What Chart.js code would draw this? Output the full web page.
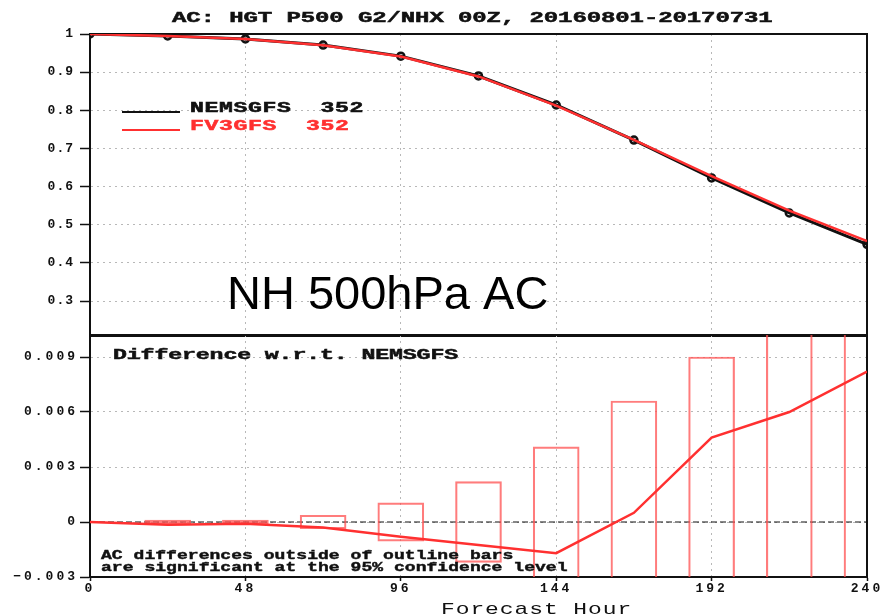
<!DOCTYPE html>
<html>
<head>
<meta charset="utf-8">
<title>NH 500hPa AC</title>
<script src="https://cdn.jsdelivr.net/npm/chart.js@4.4.1/dist/chart.umd.min.js"></script>
<style>
  html, body { margin: 0; padding: 0; background: #fff; }
  #wrap { position: relative; width: 888px; height: 616px; overflow: hidden; }
  .panel { position: absolute; left: 0; width: 888px; }
  #top { top: 0; height: 342px; }
  #bottom { top: 330px; height: 286px; }
</style>
</head>
<body>
<div id="wrap">
  <div class="panel" id="top"><canvas id="acChart"></canvas></div>
  <div class="panel" id="bottom"><canvas id="diffChart"></canvas></div>
</div>
<script>
// forecast hours and scores
const hours = [0, 24, 48, 72, 96, 120, 144, 168, 192, 216, 240];
const nemsgfs = [1.0, 0.995, 0.987, 0.971, 0.942, 0.890, 0.814, 0.722, 0.623, 0.531, 0.449];
const fv3gfs = [1.0, 0.9948, 0.9869, 0.9707, 0.9412, 0.8888, 0.8123, 0.7225, 0.6276, 0.5370, 0.4572];
const diff = [0, -0.00015, -0.0001, -0.0003, -0.0008, -0.00125, -0.0017, 0.0005, 0.0046, 0.0060, 0.0082];

// half height of the 95% confidence bars
const barHours = [24, 48, 72, 96, 120, 144, 168, 192, 216, 240];
const barHalf = [0.0001, 0.0001, 0.00037, 0.00104, 0.0022, 0.0041, 0.0066, 0.0090, 0.0118, 0.0135];

// tick labels
const xTicks = [0, 48, 96, 144, 192, 240];
const topTicks = [0.3, 0.4, 0.5, 0.6, 0.7, 0.8, 0.9, 1];
const diffTicks = [-0.003, 0, 0.003, 0.006, 0.009];

const RED = '#ff3030';
const INK = '#111';
const GRID = '#b8b8b8';
const MONO = '"Liberation Mono", "DejaVu Sans Mono", monospace';

// GrADS style wide text: stretched glyphs and fixed advance per character
function wideText(ctx, text, x, y, o) {
  ctx.save();
  ctx.letterSpacing = '0px';
  ctx.font = (o.weight || 'bold') + ' ' + o.size + 'px ' + MONO;
  const k = o.kx || 1;
  const natural = ctx.measureText('M').width;
  ctx.letterSpacing = (o.adv / k - natural) + 'px';
  ctx.fillStyle = o.color || INK;
  ctx.strokeStyle = o.color || INK;
  ctx.lineWidth = o.stroke || 0;
  ctx.textBaseline = 'middle';
  ctx.textAlign = 'left';
  ctx.translate(x, y);
  ctx.scale(k, 1);
  ctx.fillText(text, 0, 0);
  if (o.stroke) ctx.strokeText(text, 0, 0);
  ctx.restore();
}

const spacing = px => ({
  id: 'spacing',
  beforeLayout(chart) { chart.ctx.letterSpacing = px + 'px'; },
  beforeDraw(chart) { chart.ctx.letterSpacing = px + 'px'; }
});

const frame = {
  id: 'frame',
  beforeDatasetsDraw(chart) {
    const {ctx, chartArea: a} = chart;
    ctx.save();
    ctx.strokeStyle = INK;
    ctx.lineWidth = 2;
    ctx.strokeRect(a.left, a.top, a.right - a.left, a.bottom - a.top);
    ctx.restore();
  }
};

const fixY = s => { s.width = 90; s.paddingTop = 0; s.paddingBottom = 0; };
const fixX = h => s => { s.height = h; s.paddingLeft = 0; s.paddingRight = 0; };

// top panel: anomaly correlation
new Chart(document.querySelector('#acChart'), {
  type: 'line',
  data: {
    datasets: [
      {
        label: 'NEMSGFS',
        data: hours.map((h, i) => ({x: h, y: nemsgfs[i]})),
        borderColor: INK,
        borderWidth: 3,
        pointRadius: 3.5,
        pointBorderWidth: 2.5,
        pointBorderColor: INK,
        pointBackgroundColor: 'rgba(255,255,255,0)',
        order: 1
      },
      {
        label: 'FV3GFS',
        data: hours.map((h, i) => ({x: h, y: fv3gfs[i]})),
        borderColor: RED,
        borderWidth: 2.5,
        pointRadius: 0,
        order: 0
      }
    ]
  },
  options: {
    responsive: true,
    maintainAspectRatio: false,
    animation: false,
    layout: {padding: {top: 34, right: 21, bottom: 2, left: 0}},
    plugins: {legend: {display: false}, tooltip: {enabled: false}},
    scales: {
      x: {
        type: 'linear', min: 0, max: 240, offset: false,
        afterBuildTicks: s => { s.ticks = xTicks.map(v => ({value: v})); },
        afterFit: fixX(0),
        ticks: {display: false},
        grid: {color: GRID, lineWidth: 1, drawTicks: false, offset: false},
        border: {display: true, color: INK, width: 2, dash: [2, 4]}
      },
      y: {
        min: 0.21, max: 1,
        afterBuildTicks: s => { s.ticks = topTicks.map(v => ({value: v})); },
        afterFit: fixY,
        ticks: {
          callback: v => String(v),
          color: INK, padding: 6,
          font: {family: MONO, size: 13, weight: 'bold'}
        },
        grid: {color: GRID, lineWidth: 1, tickLength: 10, tickColor: INK, tickWidth: 1.5},
        border: {display: true, color: INK, width: 2, dash: [2, 4]}
      }
    }
  },
  plugins: [spacing(1), frame, {
    id: 'labels',
    afterDraw(chart) {
      const ctx = chart.ctx;
      wideText(ctx, 'AC: HGT P500 G2/NHX 00Z, 20160801-20170731', 172, 18, {size: 15, adv: 14.3, kx: 1.6, stroke: 0.5});
      ctx.save();
      ctx.lineWidth = 2;
      ctx.strokeStyle = INK;
      ctx.beginPath(); ctx.moveTo(122, 112); ctx.lineTo(180, 112); ctx.stroke();
      ctx.strokeStyle = RED;
      ctx.beginPath(); ctx.moveTo(122, 130); ctx.lineTo(180, 130); ctx.stroke();
      ctx.restore();
      wideText(ctx, 'NEMSGFS  352', 190, 108.5, {size: 14, adv: 14.5, kx: 1.65, stroke: 0.5});
      wideText(ctx, 'FV3GFS  352', 190, 126.5, {size: 14, adv: 14.5, kx: 1.65, stroke: 0.5, color: RED});
      ctx.save();
      ctx.letterSpacing = '0px';
      ctx.font = '47px "Liberation Sans", Arial, sans-serif';
      ctx.fillStyle = '#000';
      ctx.textBaseline = 'alphabetic';
      ctx.fillText('NH 500hPa AC', 227, 309);
      ctx.restore();
    }
  }]
});

// bottom panel: difference with confidence bars
new Chart(document.querySelector('#diffChart'), {
  type: 'line',
  data: {
    datasets: [
      {
        type: 'line',
        label: 'FV3GFS - NEMSGFS',
        data: hours.map((h, i) => ({x: h, y: diff[i]})),
        borderColor: RED,
        borderWidth: 2.5,
        pointRadius: 0,
        order: 0
      },
      {
        type: 'bar',
        label: '95% confidence',
        data: barHours.map((h, i) => ({x: h, y: [-barHalf[i], barHalf[i]]})),
        backgroundColor: 'rgba(0,0,0,0)',
        borderColor: 'rgba(255,80,80,0.75)',
        borderWidth: 1.5,
        borderSkipped: false,
        barThickness: 46,
        clip: 0,
        order: 1
      }
    ]
  },
  options: {
    responsive: true,
    maintainAspectRatio: false,
    animation: false,
    layout: {padding: {top: 5, right: 21, bottom: 0, left: 0}},
    plugins: {legend: {display: false}, tooltip: {enabled: false}},
    scales: {
      x: {
        type: 'linear', min: 0, max: 240, offset: false,
        afterBuildTicks: s => { s.ticks = xTicks.map(v => ({value: v})); },
        afterFit: fixX(39),
        ticks: {
          color: INK, padding: 0, maxRotation: 0, autoSkip: false,
          font: {family: MONO, size: 13, weight: 'bold'}
        },
        grid: {color: GRID, lineWidth: 1, tickLength: 4, tickColor: INK, tickWidth: 1.5, offset: false},
        border: {display: true, color: INK, width: 2, dash: [2, 4]}
      },
      y: {
        min: -0.003, max: 0.0102,
        afterBuildTicks: s => { s.ticks = diffTicks.map(v => ({value: v})); },
        afterFit: fixY,
        ticks: {
          callback: v => String(v).replace('-', '\u2212'),
          color: INK, padding: 2,
          font: {family: MONO, size: 13, weight: 'bold'}
        },
        grid: {color: GRID, lineWidth: 1, tickLength: 10, tickColor: INK, tickWidth: 1.5},
        border: {display: true, color: INK, width: 2, dash: [2, 4]}
      }
    }
  },
  plugins: [spacing(3), frame, {
    id: 'zeroLine',
    beforeDatasetsDraw(chart) {
      const {ctx, chartArea: a, scales: {y}} = chart;
      const py = y.getPixelForValue(0);
      ctx.save();
      ctx.strokeStyle = INK;
      ctx.lineWidth = 1;
      ctx.setLineDash([6, 3]);
      ctx.beginPath(); ctx.moveTo(a.left, py); ctx.lineTo(a.right, py); ctx.stroke();
      ctx.restore();
    }
  }, {
    id: 'labels',
    afterDraw(chart) {
      const ctx = chart.ctx;
      wideText(ctx, 'Difference w.r.t. NEMSGFS', 113, 25.7, {size: 15, adv: 13.8, kx: 1.55, stroke: 0.5});
      wideText(ctx, 'AC differences outside of outline bars', 101, 225.7, {size: 12, adv: 10.85, kx: 1.5, stroke: 0.4});
      wideText(ctx, 'are significant at the 95% confidence level', 101, 238.3, {size: 12, adv: 10.85, kx: 1.5, stroke: 0.4});
      wideText(ctx, 'Forecast Hour', 441, 279.3, {size: 17, adv: 14.7, kx: 1.35, weight: 'normal'});
    }
  }]
});
</script>
</body>
</html>
